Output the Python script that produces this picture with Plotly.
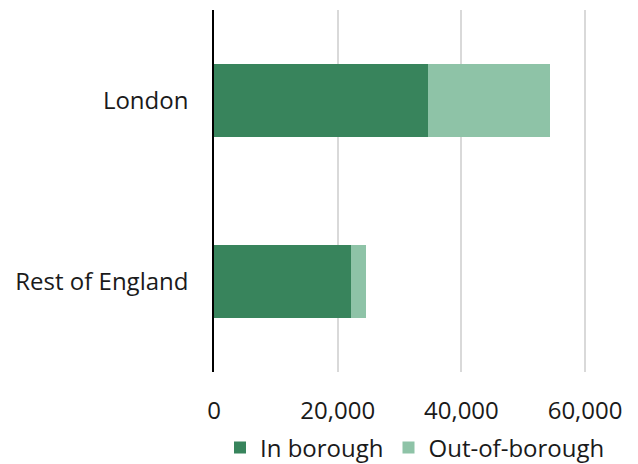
import plotly.graph_objects as go

categories = ["London", "Rest of England"]
in_borough = [34600, 22100]
out_of_borough = [19700, 2400]
tick_vals = [0, 20000, 40000, 60000]
tick_text = ["0", "20,000", "40,000", "60,000"]

dark = "#38845C"
light = "#8EC3A7"
font = dict(family="Open Sans", size=24, color="#1a1a1a")

fig = go.Figure()
fig.add_trace(go.Bar(y=categories, x=in_borough, orientation="h", name="In borough",
                     marker=dict(color=dark, line=dict(width=0))))
fig.add_trace(go.Bar(y=categories, x=out_of_borough, orientation="h", name="Out-of-borough",
                     marker=dict(color=light, line=dict(width=0))))

fig.update_layout(
    barmode="stack", bargap=0.6,
    width=638, height=464,
    margin=dict(l=214, r=22, t=10, b=92, autoexpand=False),
    paper_bgcolor="white", plot_bgcolor="white",
    font=font,
    showlegend=True,
    legend=dict(orientation="h", x=0.5, xanchor="center", y=-0.21, yanchor="middle",
                font=font, traceorder="normal", itemwidth=30),
    xaxis=dict(range=[0, 65000], tickvals=tick_vals, ticktext=tick_text,
               showgrid=True, gridcolor="#d9d9d9", gridwidth=1.5,
               zeroline=False, showline=False, ticks="", ticklabelstandoff=22,
               fixedrange=True),
    yaxis=dict(autorange="reversed", showline=True, linecolor="black", linewidth=1.5,
               ticks="", ticklabelstandoff=19, showgrid=False),
)

fig.write_html("out.html")
